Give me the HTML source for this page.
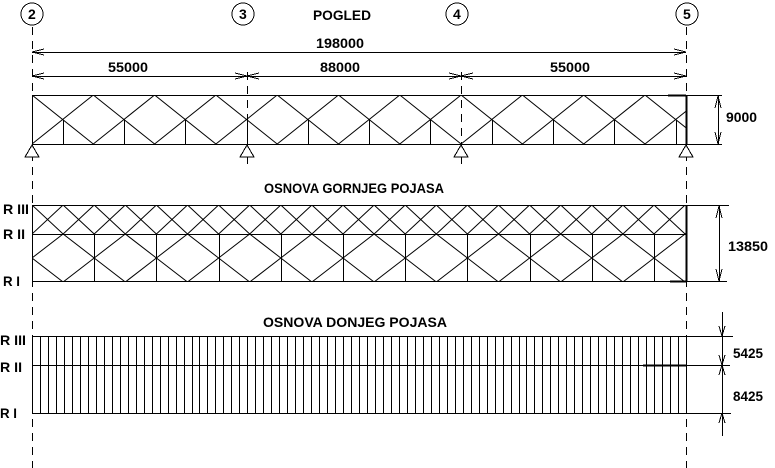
<!DOCTYPE html>
<html><head><meta charset="utf-8"><style>
html,body{margin:0;padding:0;background:#fff;width:775px;height:468px;overflow:hidden}
svg text{font-family:"Liberation Sans",Arial,sans-serif;font-weight:bold;font-size:14px;fill:#000}
</style></head><body>
<svg id="s" width="775" height="468" viewBox="0 0 775 468" xmlns="http://www.w3.org/2000/svg" shape-rendering="crispEdges">
<defs>
<clipPath id="c1"><rect x="32" y="95" width="654" height="50"/></clipPath>
<clipPath id="c2"><rect x="32" y="205" width="654" height="30"/></clipPath>
<clipPath id="c3"><rect x="32" y="234" width="654" height="48"/></clipPath>
</defs>
<g stroke="#000" stroke-width="1" fill="none">
<line x1="32.5" y1="27" x2="32.5" y2="468" stroke-dasharray="8,6"/>
<line x1="247.5" y1="72" x2="247.5" y2="165" stroke-dasharray="8,6"/>
<line x1="461.5" y1="72" x2="461.5" y2="165" stroke-dasharray="8,6"/>
<line x1="686.5" y1="27" x2="686.5" y2="468" stroke-dasharray="8,6"/>
<circle cx="32" cy="14" r="11"/><circle cx="243" cy="14" r="11"/><circle cx="457" cy="14" r="11"/><circle cx="687" cy="14" r="11"/>
<line x1="32" y1="52.5" x2="686" y2="52.5"/>
<line x1="32" y1="76.5" x2="686" y2="76.5"/>
<path d="M32 52 l12 -3 M32 52 l12 3 M686 52 l-12 -3 M686 52 l-12 3"/>
<path d="M32 76 l12 -3 M32 76 l12 3 M686 76 l-12 -3 M686 76 l-12 3 M247 76 l-12 -3 M247 76 l-12 3 M247 76 l12 -3 M247 76 l12 3 M461 76 l-12 -3 M461 76 l-12 3 M461 76 l12 -3 M461 76 l12 3"/>
<line x1="32" y1="95.5" x2="686" y2="95.5"/>
<line x1="32" y1="144.5" x2="686" y2="144.5"/>
<line x1="32.5" y1="95" x2="32.5" y2="144"/>
<line x1="686.5" y1="95" x2="686.5" y2="144" stroke-width="2"/>
<line x1="668" y1="95.5" x2="686" y2="95.5" stroke-width="2"/>
<g id="el" clip-path="url(#c1)" shape-rendering="auto"></g>
<g id="elv"></g>
<path d="M32 145 l-7 12 h14 z M247 145 l-7 12 h14 z M461 145 l-7 12 h14 z M686 145 l-7 12 h14 z" fill="#fff"/>
<line x1="686" y1="95.5" x2="722" y2="95.5"/><line x1="686" y1="144.5" x2="722" y2="144.5"/>
<line x1="718.5" y1="95" x2="718.5" y2="144"/>
<path d="M718 96 l-3 12 M718 96 l3 12 M718 144 l-3 -12 M718 144 l3 -12"/>
<line x1="32" y1="205.5" x2="729" y2="205.5"/>
<line x1="32" y1="234.5" x2="686" y2="234.5"/>
<line x1="32" y1="281.5" x2="727" y2="281.5"/>
<line x1="32.5" y1="205" x2="32.5" y2="281"/>
<line x1="686.5" y1="205" x2="686.5" y2="281" stroke-width="2"/>
<line x1="670" y1="281.5" x2="686" y2="281.5" stroke-width="2"/>
<g id="p1" clip-path="url(#c2)" shape-rendering="auto"></g>
<g id="p2" clip-path="url(#c3)" shape-rendering="auto"></g>
<line x1="719.5" y1="205" x2="719.5" y2="281"/>
<path d="M719 206 l-3 12 M719 206 l3 12 M719 281 l-3 -12 M719 281 l3 -12"/>
<line x1="32" y1="336.5" x2="733" y2="336.5"/>
<line x1="32" y1="365.5" x2="730" y2="365.5"/>
<line x1="32" y1="413.5" x2="731" y2="413.5"/>
<line x1="643" y1="365.5" x2="686" y2="365.5" stroke-width="2"/>
<g id="p3"></g>
<line x1="722.5" y1="312" x2="722.5" y2="436"/>
<path d="M722 336 l-3 -10 M722 336 l3 -10 M722 365 l-3 -10 M722 365 l3 -10 M722 365 l-3 10 M722 365 l3 10 M722 413 l-3 10 M722 413 l3 10"/>
</g>
<text x="313" y="20" textLength="58" lengthAdjust="spacingAndGlyphs">POGLED</text>
<text x="28" y="19">2</text>
<text x="239" y="19">3</text>
<text x="453" y="19">4</text>
<text x="683" y="19">5</text>
<text x="316" y="48" textLength="48" lengthAdjust="spacingAndGlyphs">198000</text>
<text x="108" y="72" textLength="40" lengthAdjust="spacingAndGlyphs">55000</text>
<text x="320" y="72" textLength="40" lengthAdjust="spacingAndGlyphs">88000</text>
<text x="550" y="72" textLength="40" lengthAdjust="spacingAndGlyphs">55000</text>
<text x="726" y="122" textLength="31" lengthAdjust="spacingAndGlyphs">9000</text>
<text x="264" y="193" textLength="180" lengthAdjust="spacingAndGlyphs">OSNOVA GORNJEG POJASA</text>
<text x="728" y="251" textLength="40" lengthAdjust="spacingAndGlyphs">13850</text>
<text x="263" y="327" textLength="184" lengthAdjust="spacingAndGlyphs">OSNOVA DONJEG POJASA</text>
<text x="733" y="358" textLength="30" lengthAdjust="spacingAndGlyphs">5425</text>
<text x="733" y="401" textLength="30" lengthAdjust="spacingAndGlyphs">8425</text>
<text x="3" y="214" textLength="26" lengthAdjust="spacingAndGlyphs">R III</text>
<text x="3" y="239" textLength="22" lengthAdjust="spacingAndGlyphs">R II</text>
<text x="3" y="286" textLength="17" lengthAdjust="spacingAndGlyphs">R I</text>
<text x="0" y="345" textLength="26" lengthAdjust="spacingAndGlyphs">R III</text>
<text x="0" y="372" textLength="22" lengthAdjust="spacingAndGlyphs">R II</text>
<text x="0" y="418" textLength="17" lengthAdjust="spacingAndGlyphs">R I</text>
</svg>
<script>
var NS="http://www.w3.org/2000/svg";
function L(g,x1,y1,x2,y2,w){var l=document.createElementNS(NS,"line");l.setAttribute("x1",x1);l.setAttribute("y1",y1);l.setAttribute("x2",x2);l.setAttribute("y2",y2);if(w)l.setAttribute("stroke-width",w);document.getElementById(g).appendChild(l);}
var p=61.3;
for(var k=-1;k<12;k++){var x=32+2*p*k;
 L("el",x,144,x+p,95);L("el",x+p,95,x+2*p,144);
 L("el",x,95,x+p,144);L("el",x+p,144,x+2*p,95);}
for(var k=0;k<11;k++){var x=Math.round(32+p/2+p*k)+0.5;if(x<686)L("elv",x,120,x,144);}
var q=31.1;
for(var k=-1;k<23;k++){var x=32+2*q*k;
 L("p1",x,234,x+q,205);L("p1",x+q,205,x+2*q,234);
 L("p1",x,205,x+q,234);L("p1",x+q,234,x+2*q,205);}
var r=62.2;
for(var k=-1;k<12;k++){var x=32+r*k;
 L("p2",x,258,x+r/2,234);L("p2",x+r/2,234,x+r,258);
 L("p2",x,258,x+r/2,282);L("p2",x+r/2,282,x+r,258);}
for(var k=1;k<11;k++){var x=Math.round(32+r*k)+0.5;L("p2",x,234,x,281);}
for(var k=0;k<=82;k++){var x=Math.round(32+k*654/82)+0.5;L("p3",x,336,x,413);}
</script>
</body></html>
